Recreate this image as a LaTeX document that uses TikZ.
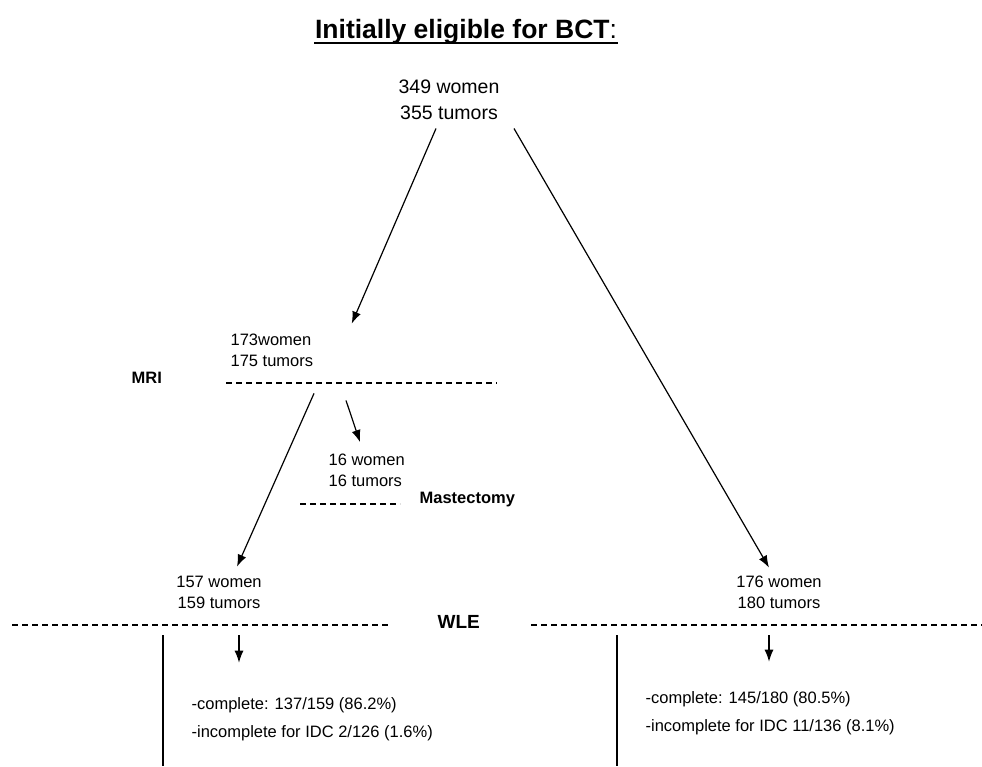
\documentclass[tikz,border=0pt]{standalone}
\usepackage{fontspec}
\setmainfont{Liberation Sans}
\usetikzlibrary{positioning,arrows.meta}

\begin{document}
\begin{tikzpicture}[x=1pt,y=-1pt,line width=1.2pt,
		>={Latex[length=12pt,width=9pt]},
		count/.style={align=center,inner sep=0pt,font=\fontsize{16.5}{21}\selectfont},
		lbl/.style={inner sep=0pt,font=\bfseries\fontsize{16.5}{20}\selectfont},
		res/.style={align=left,inner sep=0pt,font=\fontsize{16.5}{28}\selectfont},
		gate/.style={dash pattern=on 6pt off 4pt}]
		\useasboundingbox (0,0) rectangle (982,766);
		
		\node [inner sep=0pt,anchor=base,font=\bfseries\fontsize{26.5}{30}\selectfont] (title) at (466,38) {Initially eligible for BCT{\mdseries:}};
		\draw [line width=2pt] ([yshift=-5pt]title.base west) -- ([yshift=-5pt]title.base east);
		
		\node [count,font=\fontsize{19.5}{26}\selectfont] (all)  at (449,100)   {349 women\\355 tumors};
		\node [count,align=left,anchor=west]              (mri)  at (230,350.5) {173women\\175 tumors};
		\node [count,align=left,anchor=west]              (mast) at (328,470)   {16 women\\16 tumors};
		\node [count]                                     (wleL) at (219,592.5) {157 women\\159 tumors};
		\node [count]                                     (wleR) at (779,592.5) {176 women\\180 tumors};
		\node [res,anchor=west] (resL) at (191,719) {-complete: 137/159 (86.2\%)\\-incomplete for IDC 2/126 (1.6\%)};
		\node [res,anchor=west] (resR) at (645,713) {-complete: 145/180 (80.5\%)\\-incomplete for IDC 11/136 (8.1\%)};
		
		% cut-off lines
		\coordinate (mrigate)  at (226,383);
		\coordinate (mastgate) at (300,504);
		\coordinate (wlegateL) at (12,625);
		\coordinate (wlegateR) at (531,625);
		\draw [gate] (mrigate)  -- ++(271,0);
		\draw [gate] (mastgate) -- ++(100,0) coordinate (mastend);
		\draw [gate] (wlegateL) -- ++(379,0);
		\draw [gate] (wlegateR) -- ++(451,0);
		\node [lbl,anchor=west] (mrilbl)  at (131,378) {MRI};
		\node [lbl,right=19pt of mastend,yshift=4pt] (mastlbl) {Mastectomy};
		\node [lbl,anchor=west,font=\bfseries\fontsize{19}{22}\selectfont] (wlelbl) at (437,622) {WLE};
		
		\coordinate (barL) at (163,635);
		\coordinate (barR) at (617,635);
		\draw (barL) -- (barL|-0,766);
		\draw (barR) -- (barR|-0,766);
		
		\draw [->] ([shift={(-13,8)}]all.south) -- ([shift={(38,-10)}]mri.north east);
		\draw [->] ([shift={(65,8)}]all.south)  -- ([shift={(-10,-8)}]wleR.north);
		\draw [->] ([shift={(116,33)}]mri.south west) -- ([shift={(32,-11)}]mast.north west);
		\draw [->] ([shift={(84,26)}]mri.south west)  -- ([shift={(18,-9)}]wleL.north);
		\draw [->] ([shift={(20,26)}]wleL.south)  -- ([shift={(48,-34)}]resL.north west);
		\draw [->] ([shift={(-10,26)}]wleR.south) -- ([shift={(124,-29)}]resR.north west);
	\end{tikzpicture}
\end{document}
